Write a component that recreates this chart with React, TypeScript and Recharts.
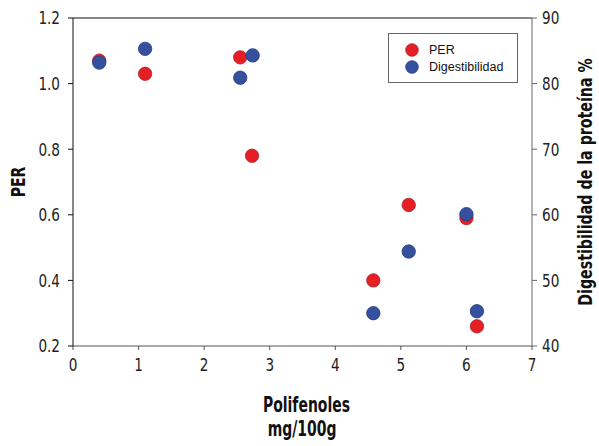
import React from 'react';
import { ScatterChart, Scatter, XAxis, YAxis, ReferenceLine, Legend, Label } from 'recharts';

const polifenoles = [0.4, 1.1, 2.55, 2.73, 4.58, 5.12, 6.0, 6.16];
const perValues = [1.07, 1.03, 1.08, 0.78, 0.40, 0.63, 0.59, 0.26];
const digX = [0.4, 1.1, 2.55, 2.74, 4.58, 5.12, 6.0, 6.16];
const digValues = [83.2, 85.3, 80.9, 84.3, 45.0, 54.4, 60.1, 45.3];
const xTicks = [0, 1, 2, 3, 4, 5, 6, 7];
const perTicks = [0.2, 0.4, 0.6, 0.8, 1.0, 1.2];
const digTicks = [40, 50, 60, 70, 80, 90];

const perData = polifenoles.map((x, i) => ({ x, y: perValues[i] }));
const digData = digX.map((x, i) => ({ x, y: digValues[i] }));

const RED = '#e81e25';
const BLUE = '#34509f';
const COND = "'DejaVu Sans Condensed', 'DejaVu Sans', sans-serif";

const redDot = (p: any) => <circle cx={p.cx} cy={p.cy} r={6.7} fill={RED} stroke="#a5262b" strokeWidth={0.8} />;
const blueDot = (p: any) => <circle cx={p.cx} cy={p.cy} r={6.7} fill={BLUE} stroke="#243c7c" strokeWidth={0.8} />;

const makeTick = (dy: string, fmt?: (v: number) => string) => (p: any) => (
  <g transform={`translate(${p.x},${p.y}) scale(0.84,1)`}>
    <text x={0} y={0} dy={dy} textAnchor={p.textAnchor} fontFamily={COND} fontSize={18} fill="#222">
      {fmt ? fmt(p.payload.value) : String(p.payload.value)}
    </text>
  </g>
);

const LegendBox = () => (
  <div style={{ width: 128, height: 48, border: '1px solid #666', background: '#fff', fontFamily: "'Liberation Sans', Arial, sans-serif", fontSize: 12.5, color: '#111', boxSizing: 'content-box' }}>
    {[{ c: RED, s: '#a5262b', t: 'PER' }, { c: BLUE, s: '#243c7c', t: 'Digestibilidad' }].map((it, i) => (
      <div key={i} style={{ position: 'absolute', left: 17, top: 10 + i * 17, display: 'flex', alignItems: 'center' }}>
        <svg width={14} height={14} style={{ display: 'block' }}>
          <circle cx={7} cy={7} r={6.3} fill={it.c} stroke={it.s} strokeWidth={0.8} />
        </svg>
        <span style={{ marginLeft: 10, lineHeight: '14px' }}>{it.t}</span>
      </div>
    ))}
  </div>
);

export default function App() {
  return (
    <div style={{ position: 'absolute', left: 0, top: 0, width: 599, height: 446, background: '#fff' }}>
      <ScatterChart width={599} height={446} margin={{ top: 18, right: 0, bottom: 0, left: 0 }}>
        <XAxis
          type="number"
          dataKey="x"
          domain={[0, 7]}
          ticks={xTicks}
          interval={0}
          height={100}
          tickSize={4}
          tickMargin={8}
          stroke="#555"
          tick={makeTick('0.71em')}
        >
          <Label
            content={(props: any) => {
              const vb = props.viewBox;
              const cx = vb.x + vb.width / 2 + 4;
              return (
                <g transform={`translate(${cx},0) scale(0.74,1)`}>
                  <text textAnchor="middle" fontFamily={COND} fontWeight="bold" fontSize={21} fill="#111">
                    <tspan x={0} y={vb.y + 66}>Polifenoles</tspan>
                    <tspan x={-6} y={vb.y + 90}>mg/100g</tspan>
                  </text>
                </g>
              );
            }}
          />
        </XAxis>
        <YAxis
          yAxisId="left"
          type="number"
          dataKey="y"
          domain={[0.2, 1.2]}
          ticks={perTicks}
          interval={0}
          width={73}
          tickSize={5}
          tickMargin={8}
          stroke="#111"
          tick={makeTick('0.355em', (v: number) => v.toFixed(1))}
        >
          <Label
            content={(props: any) => {
              const vb = props.viewBox;
              const cy = vb.y + vb.height / 2;
              return (
                <g transform={`translate(18,${cy}) rotate(-90) scale(0.78,1)`}>
                  <text x={0} y={0} textAnchor="middle" dominantBaseline="central" fontFamily={COND} fontWeight="bold" fontSize={20} fill="#111">PER</text>
                </g>
              );
            }}
          />
        </YAxis>
        <YAxis
          yAxisId="right"
          orientation="right"
          type="number"
          dataKey="y"
          domain={[40, 90]}
          ticks={digTicks}
          interval={0}
          width={67}
          tickSize={5}
          tickMargin={5}
          stroke="#666"
          tick={makeTick('0.355em')}
        >
          <Label
            content={(props: any) => {
              const vb = props.viewBox;
              const cy = vb.y + vb.height / 2;
              return (
                <g transform={`translate(585,${cy}) rotate(-90) scale(0.79,1)`}>
                  <text x={0} y={0} textAnchor="middle" dominantBaseline="central" fontFamily={COND} fontWeight="bold" fontSize={20} fill="#111">Digestibilidad de la proteína %</text>
                </g>
              );
            }}
          />
        </YAxis>
        <ReferenceLine yAxisId="left" y={1.2} stroke="#111" strokeWidth={1} />
        <Legend
          layout="horizontal"
          verticalAlign="middle"
          content={() => <LegendBox />}
          wrapperStyle={{ position: 'absolute', left: 388, top: 33, width: 130, height: 50 }}
        />
        <Scatter name="PER" data={perData} yAxisId="left" fill={RED} shape={redDot} isAnimationActive={false} />
        <Scatter name="Digestibilidad" data={digData} yAxisId="right" fill={BLUE} shape={blueDot} isAnimationActive={false} />
      </ScatterChart>
    </div>
  );
}
